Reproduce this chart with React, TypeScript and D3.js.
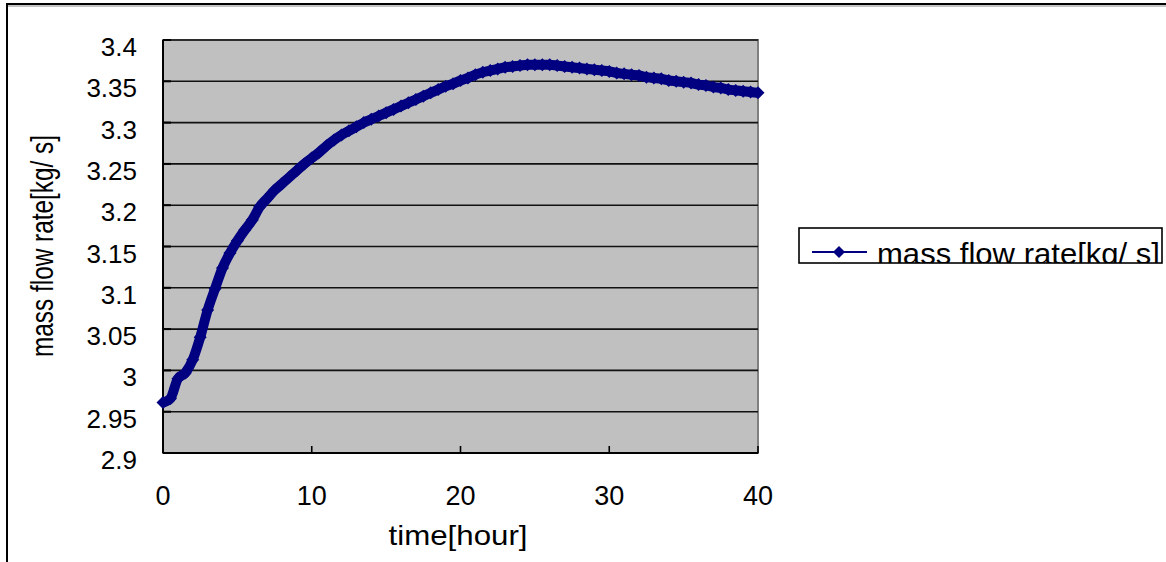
import React, { useEffect } from 'react';
import * as d3 from 'd3';

// time in hours, 0.5 h steps
const hours: number[] = d3.range(0, 40.001, 0.5);

// mass flow rate [kg/s]
const massFlow: number[] = [
  2.961, 2.966, 2.990, 2.997, 3.013, 3.040, 3.073, 3.099, 3.124, 3.142,
  3.157, 3.170, 3.182, 3.198, 3.208, 3.218, 3.226, 3.234, 3.242, 3.250,
  3.257, 3.264, 3.272, 3.279, 3.285, 3.290, 3.295, 3.300, 3.304, 3.308,
  3.312, 3.316, 3.320, 3.324, 3.328, 3.332, 3.336, 3.340, 3.344, 3.347,
  3.351, 3.354, 3.358, 3.361, 3.363, 3.365, 3.367, 3.368, 3.369, 3.370,
  3.370, 3.370, 3.370, 3.369, 3.368, 3.367, 3.366, 3.365, 3.364, 3.363,
  3.362, 3.360, 3.359, 3.358, 3.357, 3.355, 3.354, 3.353, 3.351, 3.350,
  3.349, 3.348, 3.346, 3.345, 3.343, 3.342, 3.340, 3.339, 3.338, 3.337,
  3.336,
];

const xTicks = [0, 10, 20, 30, 40];
const yTicks = d3.range(2.9, 3.4001, 0.05);

const seriesName = 'mass flow rate[kg/ s]';
const xTitle = 'time[hour]';
const yTitle = 'mass flow rate[kg/ s]';

const W = 1166;
const H = 562;
const plot = { left: 163, right: 758, top: 40, bottom: 453 };
const navy = '#000080';
const font = '"Liberation Sans", Arial, sans-serif';

const diamond = (cx: number, cy: number, r: number) =>
  `M${cx},${cy - r}L${cx + r},${cy}L${cx},${cy + r}L${cx - r},${cy}Z`;

const App: React.FC = () => {
  useEffect(() => {
    document.body.style.margin = '0';
  }, []);

  const x = d3.scaleLinear().domain([0, 40]).range([plot.left, plot.right]);
  const y = d3.scaleLinear().domain([2.9, 3.4]).range([plot.bottom, plot.top]);

  const pts = hours.map((h, i) => [h, massFlow[i]] as [number, number]);
  const line = d3
    .line<[number, number]>()
    .x(d => x(d[0]))
    .y(d => y(d[1]))
    .curve(d3.curveMonotoneX);

  return (
    <svg width={W} height={H} style={{ display: 'block', background: '#fff' }}>
      {/* outer chart frame */}
      <rect x={7} y={4} width={1300} height={700} fill="#fff" stroke="#000" strokeWidth={2} />
      <line x1={8} y1={6} x2={1166} y2={6} stroke="#888" strokeWidth={1} />

      {/* plot area */}
      <rect
        x={plot.left}
        y={plot.top}
        width={plot.right - plot.left}
        height={plot.bottom - plot.top}
        fill="#c0c0c0"
        stroke="#808080"
        strokeWidth={2}
      />

      {/* gridlines */}
      {yTicks.map(t => (
        <line
          key={`g${t}`}
          x1={plot.left}
          x2={plot.right}
          y1={y(t)}
          y2={y(t)}
          stroke="#111"
          strokeWidth={1.6}
        />
      ))}

      {/* axes */}
      <line x1={plot.left} x2={plot.left} y1={plot.top} y2={plot.bottom} stroke="#000" strokeWidth={2} />
      <line x1={plot.left} x2={plot.right} y1={plot.bottom} y2={plot.bottom} stroke="#000" strokeWidth={2} />
      {xTicks.map(t => (
        <line key={`xt${t}`} x1={x(t)} x2={x(t)} y1={plot.bottom} y2={plot.bottom - 7} stroke="#000" strokeWidth={1.6} />
      ))}
      {yTicks.map(t => (
        <line key={`yt${t}`} x1={plot.left} x2={plot.left + 8} y1={y(t)} y2={y(t)} stroke="#000" strokeWidth={2} />
      ))}

      {/* tick labels */}
      {yTicks.map(t => (
        <text
          key={`yl${t}`}
          x={137}
          y={y(t) + 16}
          textAnchor="end"
          fontFamily={font}
          fontSize={26}
          fill="#000"
        >
          {d3.format('~g')(+t.toFixed(2))}
        </text>
      ))}
      {xTicks.map(t => (
        <text
          key={`xl${t}`}
          x={x(t)}
          y={505}
          textAnchor="middle"
          fontFamily={font}
          fontSize={27}
          fill="#000"
        >
          {t}
        </text>
      ))}

      {/* axis titles */}
      <text
        x={458}
        y={545}
        textAnchor="middle"
        fontFamily={font}
        fontSize={28}
        textLength={139}
        lengthAdjust="spacingAndGlyphs"
      >
        {xTitle}
      </text>
      <text
        transform="translate(53,246) rotate(-90)"
        textAnchor="middle"
        fontFamily={font}
        fontSize={31}
        textLength={222}
        lengthAdjust="spacingAndGlyphs"
      >
        {yTitle}
      </text>

      {/* series */}
      <path d={line(pts) ?? ''} fill="none" stroke={navy} strokeWidth={10} strokeLinejoin="round" />
      {pts.map((p, i) => (
        <path key={`m${i}`} d={diamond(x(p[0]), y(p[1]), 6.5)} fill={navy} />
      ))}

      {/* legend */}
      <defs>
        <clipPath id="legclip">
          <rect x={799} y={228} width={363} height={35} />
        </clipPath>
      </defs>
      <rect x={799} y={228} width={363} height={35} fill="#fff" stroke="#000" strokeWidth={1.6} />
      <line x1={812} x2={867} y1={252} y2={252} stroke={navy} strokeWidth={2} />
      <path d={diamond(839, 252, 6)} fill={navy} />
      <g clipPath="url(#legclip)">
        <text
          x={877}
          y={264}
          fontFamily={font}
          fontSize={29}
          textLength={283}
          lengthAdjust="spacingAndGlyphs"
        >
          {seriesName}
        </text>
      </g>
    </svg>
  );
};

export default App;
